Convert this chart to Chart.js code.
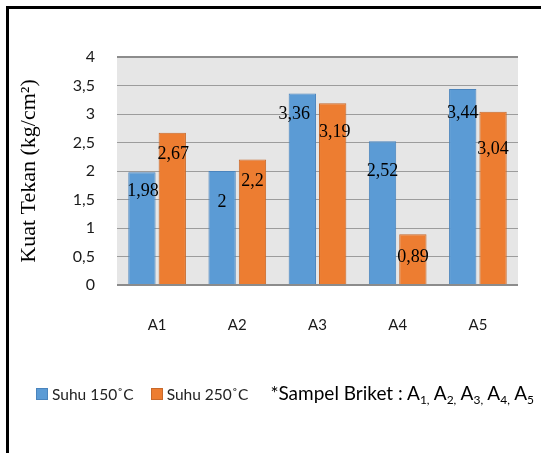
<!DOCTYPE html>
<html>
<head>
<meta charset="utf-8">
<script src="https://cdn.jsdelivr.net/npm/chart.js@4.4.1/dist/chart.umd.min.js"></script>
<style>
    html, body { margin: 0; padding: 0; background: #ffffff; }
    body { width: 541px; height: 453px; position: relative; overflow: hidden; }
    #frame {
        position: absolute; left: 6px; top: 6px;
        width: 560px; height: 470px;
        border: 3px solid #000000;
        box-sizing: border-box;
    }
    #wrap { position: absolute; left: 0; top: 0; width: 541px; height: 453px; }
    #legend {
        position: absolute; left: 36px; top: 381px;
        display: flex; align-items: center;
        font-family: Lato, "Open Sans", sans-serif; color: #222222;
        white-space: nowrap;
    }
    .item { display: flex; align-items: center; font-size: 15.5px; margin-right: 17px; }
    .box { width: 10px; height: 10px; border: 1px solid; margin-right: 4px; }
    .note { font-size: 19px; color: #000000; margin-left: 5px; }
    .note sub { font-size: 12px; vertical-align: -4px; }
</style>
</head>
<body>
<div id="frame"></div>
<div id="wrap"><canvas id="kuat-tekan" width="541" height="453"></canvas></div>
<div id="legend"></div>

<script>
// data
const categories = ['A1', 'A2', 'A3', 'A4', 'A5'];
const suhu150 = [1.98, 2, 3.36, 2.52, 3.44];
const suhu250 = [2.67, 2.2, 3.19, 0.89, 3.04];
const seriesNames = ['Suhu 150˚C', 'Suhu 250˚C'];
const yTickLabels = ['0', '0,5', '1', '1,5', '2', '2,5', '3', '3,5', '4'];

// how far below the bar top each value label sits (px)
const labelDrop = [
    [19, 31, 21, 30, 24],
    [21, 22, 29, 23, 38]
];
const labelShiftX = [
    [1, 0, -8, 0, 0],
    [1, 0, 2, 0, 0]
];

const blue = '#5b9bd5';
const orange = '#ed7d31';

// grey plot background
const plotBackground = {
    id: 'plotBackground',
    beforeDraw(chart) {
        const { ctx, chartArea } = chart;
        ctx.save();
        ctx.fillStyle = '#e6e6e6';
        ctx.fillRect(chartArea.left, chartArea.top, chartArea.right - chartArea.left, chartArea.bottom - chartArea.top);
        ctx.restore();
    }
};

// value labels inside the bars, comma decimals
const valueLabels = {
    id: 'valueLabels',
    afterDatasetsDraw(chart) {
        const ctx = chart.ctx;
        ctx.save();
        ctx.font = '18px "Liberation Serif", "Times New Roman", serif';
        ctx.fillStyle = '#000000';
        ctx.textAlign = 'center';
        ctx.textBaseline = 'middle';
        chart.data.datasets.forEach((ds, i) => {
            chart.getDatasetMeta(i).data.forEach((bar, j) => {
                const txt = String(ds.data[j]).replace('.', ',');
                ctx.fillText(txt, bar.x + labelShiftX[i][j], bar.y + labelDrop[i][j]);
            });
        });
        ctx.restore();
    }
};

const ctx = document.getElementById('kuat-tekan').getContext('2d');
const chart = new Chart(ctx, {
    type: 'bar',
    data: {
        labels: categories,
        datasets: [{
            label: seriesNames[0],
            data: suhu150,
            backgroundColor: blue,
            borderColor: '#4a84bd',
            borderWidth: 1
        },
        {
            label: seriesNames[1],
            data: suhu250,
            backgroundColor: orange,
            borderColor: '#c8692b',
            borderWidth: 1
        }]
    },
    options: {
        responsive: false,
        animation: false,
        categoryPercentage: 0.757,
        barPercentage: 0.9,
        layout: {
            padding: { top: 57, right: 23, bottom: 118, left: 0 }
        },
        scales: {
            x: {
                afterFit: (scale) => { scale.height = 50; },
                grid: { display: false, drawTicks: false },
                border: { display: false },
                ticks: {
                    color: '#1a1a1a',
                    padding: 31,
                    font: { family: 'Lato', size: 15 }
                }
            },
            y: {
                min: 0,
                max: 4,
                afterFit: (scale) => { scale.width = 117; },
                border: { display: false },
                grid: {
                    drawTicks: false,
                    color: (c) => (c.tick.value === 0 || c.tick.value === 4) ? '#8c8c8c' : '#9c9c9c',
                    lineWidth: (c) => (c.tick.value === 0 || c.tick.value === 4) ? 2 : 1
                },
                ticks: {
                    stepSize: 0.5,
                    padding: 22,
                    color: '#1a1a1a',
                    font: { family: 'Lato', size: 16 },
                    callback: (value, index) => yTickLabels[index]
                },
                title: {
                    display: true,
                    text: 'Kuat Tekan (kg/cm²)',
                    color: '#000000',
                    font: { family: '"Liberation Serif", "Times New Roman", serif', size: 22 },
                    padding: { top: 16, bottom: 0 }
                }
            }
        },
        plugins: {
            legend: { display: false },
            tooltip: { enabled: false }
        }
    },
    plugins: [plotBackground, valueLabels]
});

// legend row built from the datasets
const legendEl = document.getElementById('legend');
chart.data.datasets.forEach((ds) => {
    const item = document.createElement('div');
    item.className = 'item';
    const box = document.createElement('span');
    box.className = 'box';
    box.style.background = ds.backgroundColor;
    box.style.borderColor = ds.borderColor;
    item.appendChild(box);
    item.appendChild(document.createTextNode(ds.label));
    legendEl.appendChild(item);
});
const note = document.createElement('div');
note.className = 'note';
note.innerHTML = '*Sampel Briket : ' + categories.map((c, i) =>
    c[0] + '<sub>' + c.slice(1) + (i < categories.length - 1 ? ',' : '') + '</sub>').join(' ');
legendEl.appendChild(note);
</script>
</body>
</html>
